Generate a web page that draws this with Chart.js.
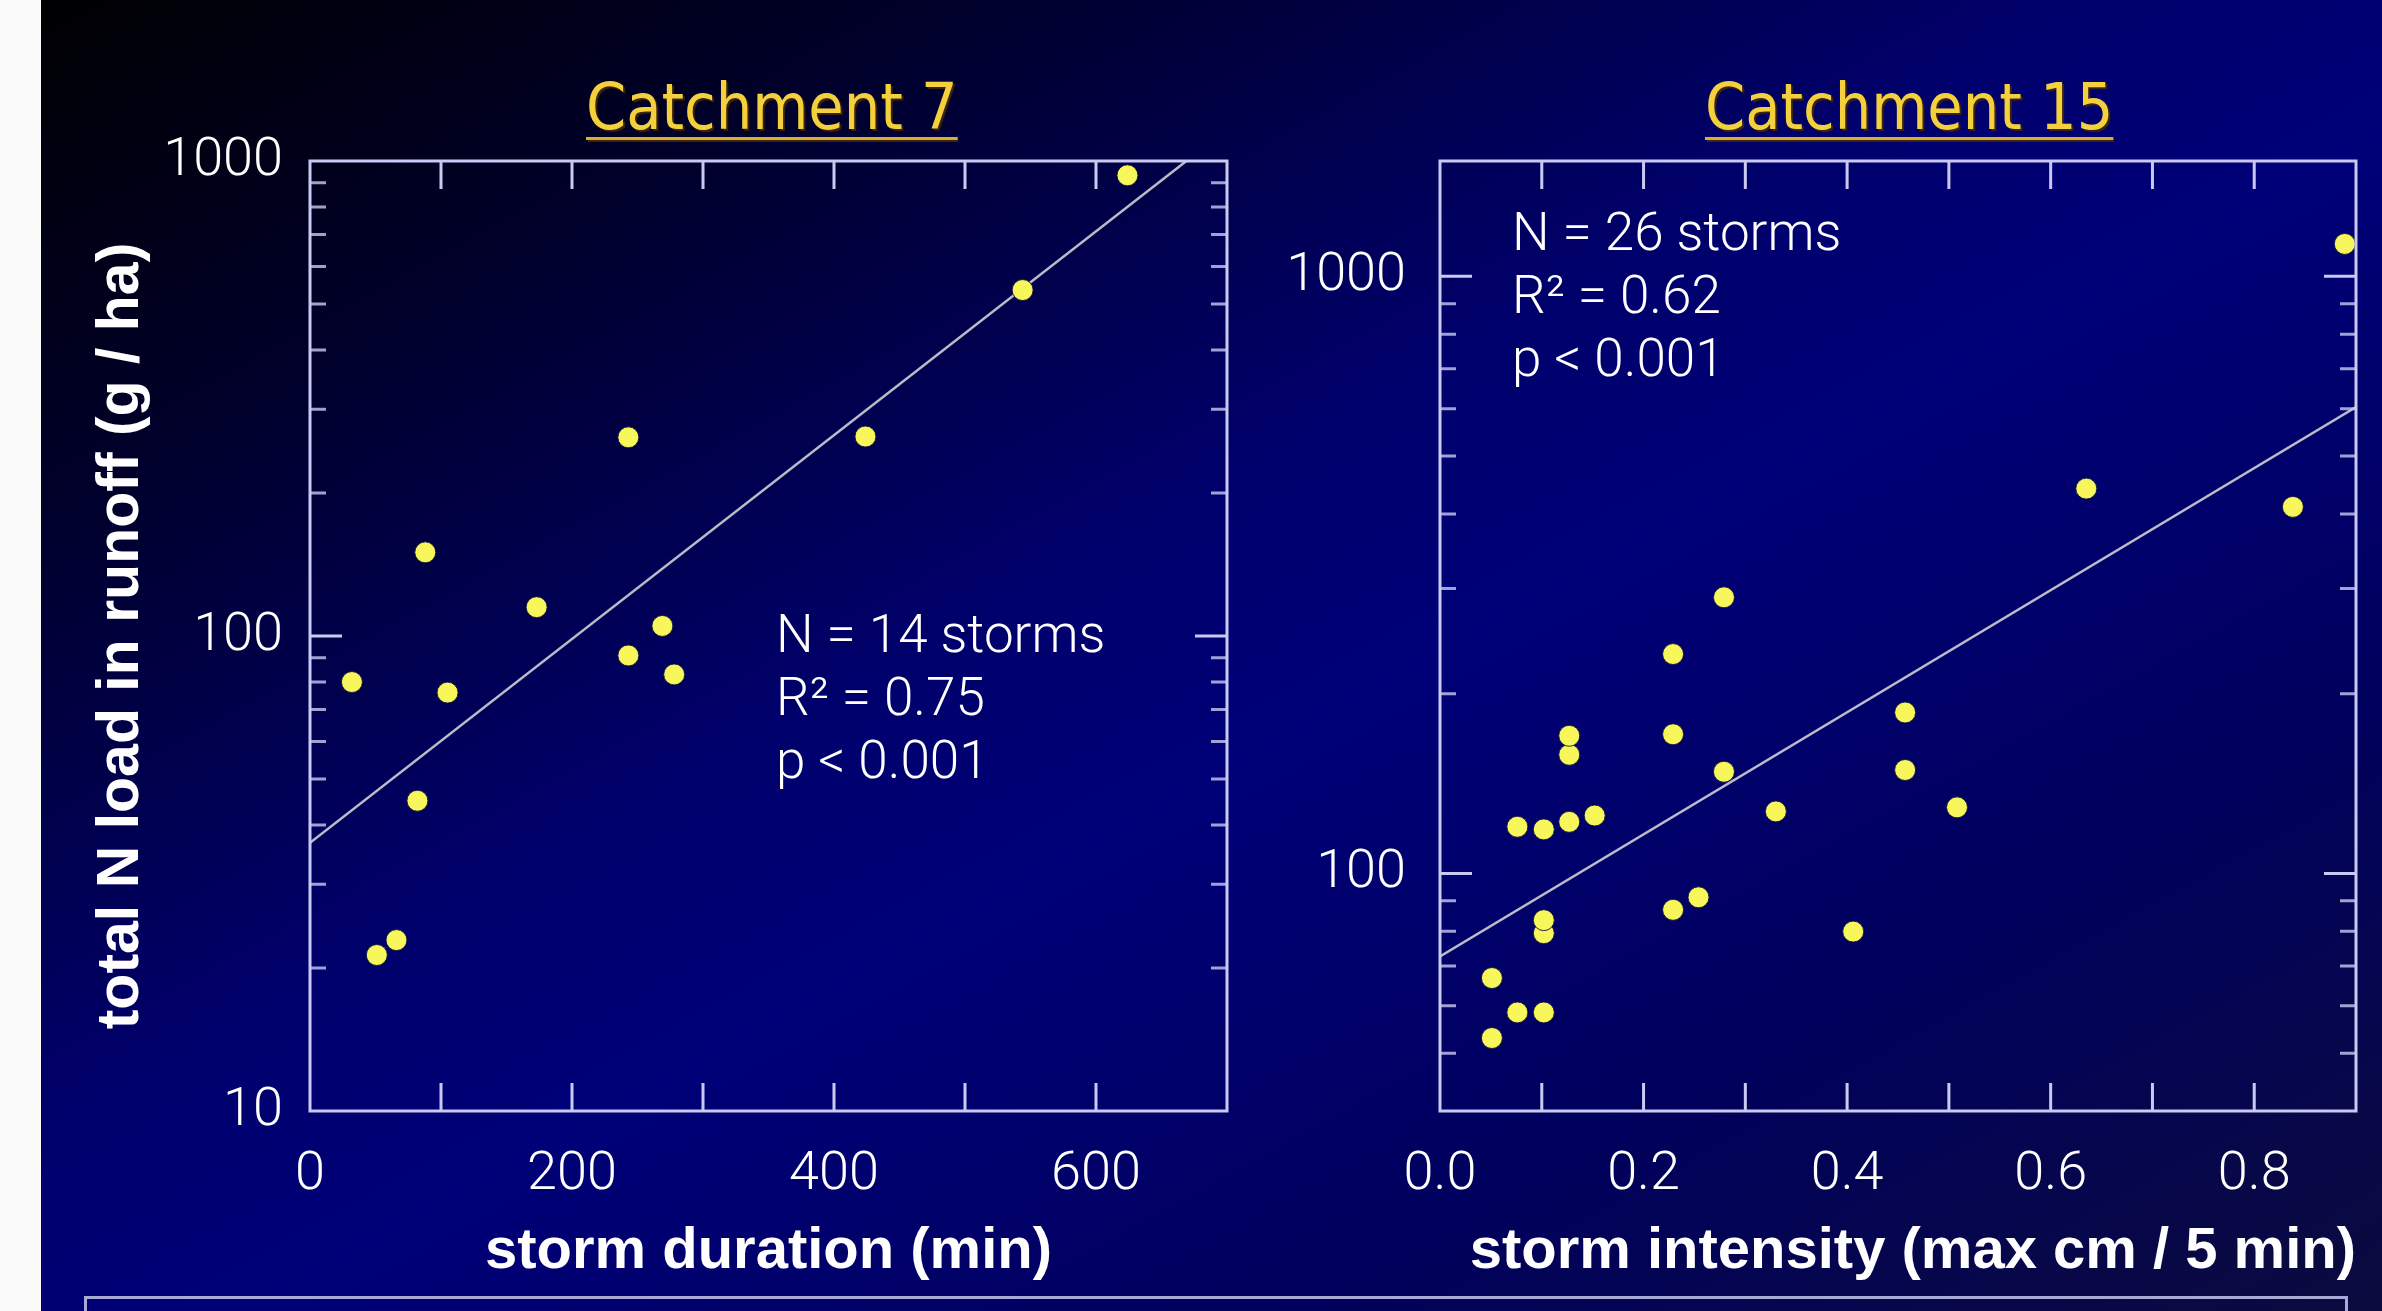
<!DOCTYPE html>
<html>
<head>
<meta charset="utf-8">
<script src="https://cdn.jsdelivr.net/npm/chart.js@4.4.1/dist/chart.umd.min.js"></script>
<style>
  html, body { margin: 0; padding: 0; }
  body {
    width: 2382px; height: 1311px; overflow: hidden; position: relative;
    background: linear-gradient(to bottom right, #000000 0%, #00002a 20%, #00006c 44%, #000078 55%, #00005e 76%, #0b0b3e 100%);
  }
  #strip { position: absolute; left: 0; top: 0; width: 41px; height: 1311px; background: #fbfbfb; }
  #c7 { position: absolute; left: 0; top: 0; }
  #c15 { position: absolute; left: 1240px; top: 0; }
  .title {
    position: absolute; top: 70px; margin: 0;
    font-family: 'DejaVu Sans Condensed', 'DejaVu Sans', sans-serif; font-stretch: condensed;
    font-size: 64px; line-height: 74px; color: #f4d03c;
    text-decoration: underline; text-decoration-color: #d9ae2c;
    text-decoration-thickness: 3px; text-underline-offset: 8px;
    text-shadow: 2px 2px 1px rgba(70, 45, 0, 0.85);
  }
  .note {
    position: absolute; margin: 0; color: #ffffff;
    font-family: Roboto, 'Liberation Sans', sans-serif; font-weight: 300;
    font-size: 53px; line-height: 63px; white-space: pre;
  }
  #box {
    position: absolute; left: 84px; top: 1296px; width: 2258px; height: 60px;
    border: 3px solid #a9a9d6;
  }
</style>
</head>
<body>
<div id="strip"></div>
<canvas id="c7" width="1300" height="1311"></canvas>
<canvas id="c15" width="1200" height="1311"></canvas>
<div class="title" style="left:586px">Catchment 7</div>
<div class="title" style="left:1705px">Catchment 15</div>
<div class="note" style="left:776px; top:603px">N = 14 storms
R² = 0.75
p &lt; 0.001</div>
<div class="note" style="left:1512px; top:201px">N = 26 storms
R² = 0.62
p &lt; 0.001</div>
<div id="box"></div>
<script>
// Catchment 7: storm duration (min) vs total N load (g/ha)
const durationMin = [32, 51, 66, 82, 88, 105, 173, 243, 243, 269, 278, 424, 544, 624];
const loadC7 = [80, 21.3, 22.9, 45, 150, 76, 115, 262, 91, 105, 83, 263, 535, 933];
const fitC7X = [0, 669];
const fitC7Y = [36.7, 1000];

// Catchment 15: storm intensity (max cm / 5 min) vs total N load (g/ha)
const intensity = [0.051, 0.051, 0.076, 0.076, 0.102, 0.102, 0.102, 0.102, 0.127, 0.127, 0.127, 0.152,
  0.229, 0.229, 0.229, 0.254, 0.279, 0.279, 0.330, 0.406, 0.457, 0.457, 0.508, 0.635, 0.838, 0.889];
const loadC15 = [53, 66.8, 58.5, 119.7, 58.5, 79.4, 83.5, 118.5, 122, 158, 170, 125,
  86.9, 171, 233, 91.2, 148, 290, 127, 79.9, 149, 186, 129, 441, 411, 1133];
const fitC15X = [0, 0.9];
const fitC15Y = [72.6, 604];

// tick labels
const yLabels = [10, 100, 1000];
const xLabelsC7 = [0, 200, 400, 600];
const xLabelsC15 = [0, 0.2, 0.4, 0.6, 0.8];

const frameColor = '#c9c9f4';
const tickFont = { family: 'Roboto', size: 54, weight: '300' };
const titleFont = { family: 'Liberation Sans', size: 58, weight: 'bold' };

function pairs(xs, ys) {
  return xs.map((x, i) => ({ x: x, y: ys[i] }));
}

// frame round the plot with inward ticks on all four sides
const framePlugin = {
  id: 'frame',
  afterDatasetsDraw(chart) {
    const { ctx, chartArea: a, scales: { x, y } } = chart;
    ctx.save();
    ctx.strokeStyle = frameColor;
    ctx.lineWidth = 3;
    ctx.strokeRect(a.left, a.top, a.right - a.left, a.bottom - a.top);
    ctx.beginPath();
    x.ticks.forEach(t => {
      const px = x.getPixelForValue(t.value);
      if (px <= a.left + 2 || px >= a.right - 2) return;
      ctx.moveTo(px, a.bottom); ctx.lineTo(px, a.bottom - 28);
      ctx.moveTo(px, a.top); ctx.lineTo(px, a.top + 28);
    });
    ctx.stroke();
    y.ticks.forEach(t => {
      const py = y.getPixelForValue(t.value);
      if (py <= a.top + 2 || py >= a.bottom - 2) return;
      const mag = Math.pow(10, Math.floor(Math.log10(t.value)));
      const sig = Math.round(t.value / mag * 1000) / 1000;
      if (!Number.isInteger(sig)) return;
      const major = sig === 1;
      const len = major ? 32 : 16;
      ctx.beginPath();
      ctx.globalAlpha = major ? 1 : 0.8;
      ctx.moveTo(a.left, py); ctx.lineTo(a.left + len, py);
      ctx.moveTo(a.right, py); ctx.lineTo(a.right - len, py);
      ctx.stroke();
    });
    ctx.restore();
  }
};

function makeChart(id, cfg) {
  return new Chart(document.getElementById(id), {
    type: 'scatter',
    data: {
      datasets: [
        {
          data: cfg.points,
          backgroundColor: '#f7f75c',
          borderColor: 'rgba(20, 20, 60, 0.9)',
          borderWidth: 1,
          pointRadius: 10.5,
          order: 1
        },
        {
          type: 'line',
          data: cfg.fit,
          borderColor: 'rgba(196, 196, 206, 0.95)',
          borderWidth: 2.5,
          pointRadius: 0,
          fill: false,
          order: 2
        }
      ]
    },
    options: {
      responsive: false,
      animation: false,
      layout: { padding: { left: 0, top: 161, right: cfg.padRight, bottom: 0 } },
      plugins: { legend: { display: false }, tooltip: { enabled: false } },
      scales: {
        x: {
          type: 'linear',
          min: 0,
          max: cfg.xMax,
          grid: { display: false, drawTicks: false },
          border: { display: false },
          ticks: {
            stepSize: cfg.xStep,
            autoSkip: false,
            maxRotation: 0,
            color: '#ffffff',
            font: tickFont,
            padding: 32,
            callback: cfg.xLabel
          },
          title: {
            display: true,
            text: cfg.xTitle,
            align: cfg.xTitleAlign,
            color: '#ffffff',
            font: titleFont,
            padding: { top: 0, bottom: 24 }
          },
          afterFit: s => { s.height = 200; s.paddingLeft = 0; s.paddingRight = 0; }
        },
        y: {
          type: 'logarithmic',
          min: cfg.yMin,
          max: cfg.yMax,
          grid: { display: false, drawTicks: false },
          border: { display: false },
          ticks: {
            autoSkip: false,
            color: '#ffffff',
            font: tickFont,
            padding: cfg.yPad,
            callback: v => yLabels.includes(v) ? String(v) : ''
          },
          title: {
            display: !!cfg.yTitle,
            text: cfg.yTitle || '',
            color: '#ffffff',
            font: { family: 'Liberation Sans', size: 59, weight: 'bold' },
            padding: { top: 86, bottom: 0 }
          },
          afterFit: s => { s.width = cfg.yWidth; }
        }
      }
    },
    plugins: [framePlugin]
  });
}

makeChart('c7', {
  points: pairs(durationMin, loadC7),
  fit: pairs(fitC7X, fitC7Y),
  xMax: 700, xStep: 100,
  xLabel: v => xLabelsC7.includes(v) ? String(v) : '',
  xTitle: 'storm duration (min)', xTitleAlign: 'center',
  yMin: 10, yMax: 1000, yPad: 27, yWidth: 310, padRight: 73,
  yTitle: 'total N load in runoff (g / ha)'
});

makeChart('c15', {
  points: pairs(intensity, loadC15),
  fit: pairs(fitC15X, fitC15Y),
  xMax: 0.9, xStep: 0.1,
  xLabel: v => xLabelsC15.some(l => Math.abs(l - v) < 1e-6) ? v.toFixed(1) : '',
  xTitle: 'storm intensity (max cm / 5 min)', xTitleAlign: 'end',
  yMin: 40, yMax: 1560, yPad: 34, yWidth: 200, padRight: 84
});
</script>
</body>
</html>
